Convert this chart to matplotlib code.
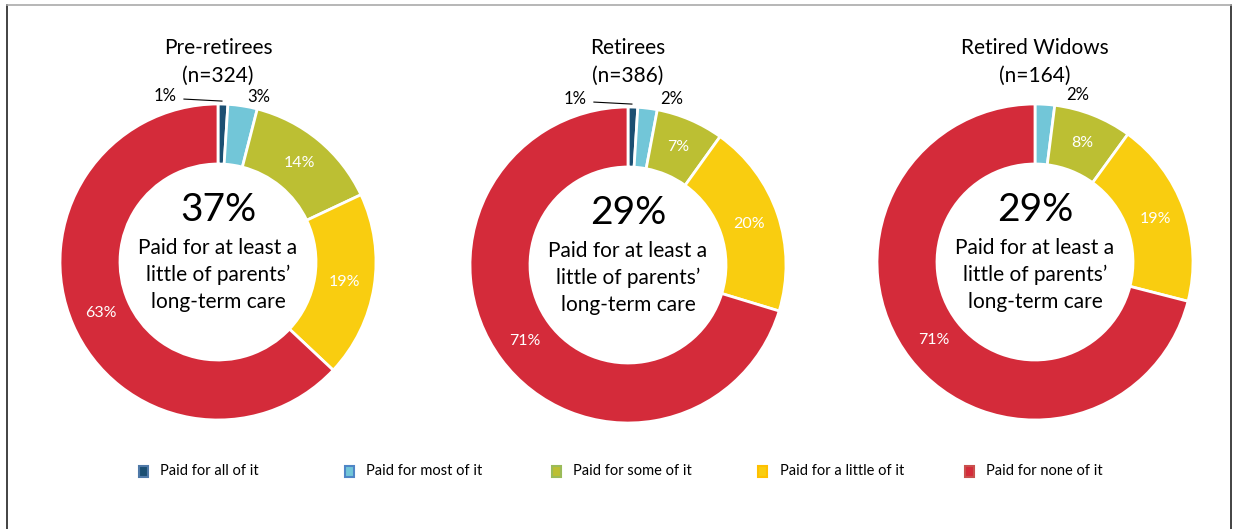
import matplotlib
matplotlib.use('Agg')
import matplotlib.pyplot as plt
import matplotlib.patches as mpatches
from matplotlib.lines import Line2D
import numpy as np

plt.rcParams['font.family'] = ['Lato', 'DejaVu Sans']

# data
groups = ['Pre-retirees', 'Retirees', 'Retired Widows']
sample_sizes = [324, 386, 164]
categories = ['Paid for all of it', 'Paid for most of it', 'Paid for some of it',
              'Paid for a little of it', 'Paid for none of it']
shares = [
    [1, 3, 14, 19, 63],
    [1, 2, 7, 20, 71],
    [0, 2, 8, 19, 71],
]
paid_any = [37, 29, 29]

colors = ['#1b4f72', '#72c6d8', '#bcbf33', '#f9cd10', '#d42b3a']
legend_edges = ['#4f79a8', '#4f86c6', '#9bbb59', '#ffc000', '#c9504d']

# layout (pixels)
W, H = 1233, 529
centers_x = [218, 628, 1035]
centers_y = [262, 265, 262]
R = 158
RING = 60
small_dx = [16, 24, 33]

fig = plt.figure(figsize=(W / 100, H / 100), dpi=100)
ax = fig.add_axes([0, 0, 1, 1])

for i, vals in enumerate(shares):
    cx, cy = centers_x[i], H - centers_y[i]
    wedges, _ = ax.pie(vals, radius=R, center=(cx, cy), startangle=90,
                       counterclock=False, colors=colors,
                       wedgeprops=dict(width=RING, edgecolor='white', linewidth=2))
    for k, (w, v) in enumerate(zip(wedges, vals)):
        if v == 0:
            continue
        ang = np.deg2rad((w.theta1 + w.theta2) / 2)
        if v >= 5:
            r = R - RING / 2
            ax.text(cx + r * np.cos(ang), cy + r * np.sin(ang), f'{v}%',
                    color='white', fontsize=11.5, ha='center', va='center')
        else:
            ox, oy = cx + R * np.cos(ang), cy + R * np.sin(ang)
            if k == 0:
                tx, ty = ox - 58, oy + 8
                ax.text(tx, ty, f'{v}%', fontsize=12, ha='center', va='center')
                ax.plot([tx + 19, ox - 1], [ty - 3, oy + 3], color='black', lw=0.8)
            else:
                ax.text(ox + small_dx[i], oy + 9, f'{v}%', fontsize=12,
                        ha='center', va='center')

    ax.text(cx, H - 62, f'{groups[i]}\n(n={sample_sizes[i]})', fontsize=15,
            ha='center', va='center', linespacing=1.5)
    ax.text(cx, cy + 52, f'{paid_any[i]}%', fontsize=28, ha='center', va='center')
    ax.text(cx, cy - 13, "Paid for at least a\nlittle of parents\u2019\nlong-term care",
            fontsize=15, ha='center', va='center', linespacing=1.45)

# legend in evenly spaced columns
leg_x = np.linspace(143, 969, len(categories))
leg_y = H - 471
for x, c, e, lab in zip(leg_x, colors, legend_edges, categories):
    ax.add_patch(mpatches.Rectangle((x - 4.5, leg_y - 5.5), 9, 11, facecolor=c,
                                    edgecolor=e, linewidth=1.5))
    ax.text(x + 17, leg_y, lab, fontsize=10.5, ha='left', va='center')

ax.set_xlim(0, W)
ax.set_ylim(0, H)
ax.set_aspect('equal')
ax.axis('off')

# thin frame around the graphic
fig.add_artist(Line2D([7 / W, 7 / W], [0, 1 - 5 / H], transform=fig.transFigure,
                      color='#222222', lw=1.2))
fig.add_artist(Line2D([1231 / W, 1231 / W], [0, 1 - 5 / H], transform=fig.transFigure,
                      color='#222222', lw=1.2))
fig.add_artist(Line2D([7 / W, 1231 / W], [1 - 5 / H, 1 - 5 / H], transform=fig.transFigure,
                      color='#aaaaaa', lw=1.2))

fig.savefig('out.png', dpi=100)
